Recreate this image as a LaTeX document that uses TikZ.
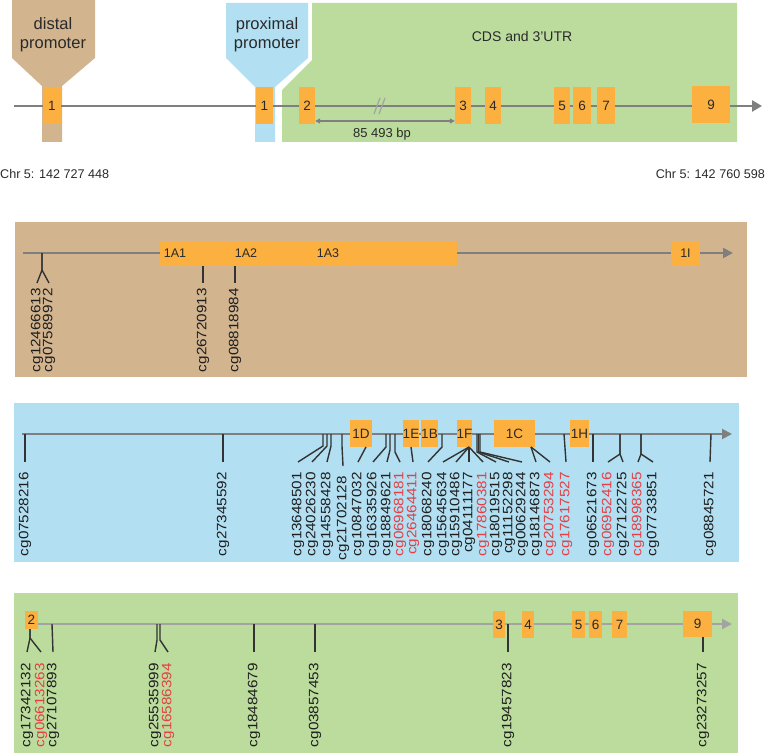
\documentclass[tikz,border=0pt]{standalone}
\usepackage{fontspec}
\setmainfont{Liberation Sans}
\usetikzlibrary{arrows.meta}
\definecolor{brownp}{HTML}{D2B48F}
\definecolor{bluep}{HTML}{B2DFF1}
\definecolor{greenp}{HTML}{BCDC9E}
\definecolor{exonor}{HTML}{FBB040}
\definecolor{geneg}{HTML}{7F7F7F}
\definecolor{genelt}{HTML}{A3A3A3}
\definecolor{txt}{HTML}{2A2A2A}
\definecolor{labr}{HTML}{E63E44}
\definecolor{labk}{HTML}{1E1E1E}
\definecolor{cpgc}{HTML}{333333}
\begin{document}
\begin{tikzpicture}[x=1pt,y=-1pt,
 exon/.style={fill=exonor, inner sep=0pt, text=txt, font=\fontsize{13.5}{13.5}\selectfont},
 gene/.style={draw=geneg, line width=2.5pt, -{Triangle[length=10pt,width=11pt]}},
 genep/.style={draw=geneg, line width=2pt, -{Triangle[length=10pt,width=10pt]}},
 cpg/.style={draw=cpgc, line width=1.4pt},
 lab/.style={rotate=90, anchor=east, inner sep=0pt, font=\fontsize{13.6}{15}\selectfont},
 ttl/.style={text=txt, align=center, font=\fontsize{16.5}{19}\selectfont, inner sep=0pt},
 small/.style={text=txt, inner sep=0pt, font=\fontsize{12.6}{14}\selectfont},
]
\useasboundingbox (0,0) rectangle (765,754);
% ---------- top overview ----------
\fill[brownp] (12,0) -- (95,0) -- (95,58) -- (62,86) -- (62,142) -- (42,142) -- (42,86) -- (12,58) -- cycle;
\fill[bluep] (226,3) -- (308,3) -- (308,58) -- (275,87) -- (275,142) -- (255,142) -- (255,87) -- (226,58) -- cycle;
\fill[greenp] (312,3) -- (737,3) -- (737,142) -- (282,142) -- (282,90) -- (312,60) -- cycle;
\node[ttl] (dist) at (53,35) {distal\\promoter};
\node[ttl] (prox) at (267,35) {proximal\\promoter};
\node[text=txt, inner sep=0pt, font=\fontsize{14}{16}\selectfont] (cds) at (522,36) {CDS and 3'UTR};
\coordinate (gs) at (14,106);
\coordinate (ge) at (762,106);
\draw[gene] (gs) -- (ge);
\draw[genelt, line width=1.2pt] (374,114) -- (380,98) (379,114) -- (385,98);
\node[exon, minimum width=18pt, minimum height=37pt] (d1) at (52,105.5) {1};
\node[exon, minimum width=17pt, minimum height=37pt] (p1) at (264.5,105.5) {1};
\node[exon, minimum width=16pt, minimum height=37pt] (e2) at (307,105.5) {2};
\node[exon, minimum width=16pt, minimum height=37pt] (e3) at (463,105.5) {3};
\node[exon, minimum width=16pt, minimum height=37pt] (e4) at (493,105.5) {4};
\node[exon, minimum width=16pt, minimum height=37pt] (e5) at (562,105.5) {5};
\node[exon, minimum width=18pt, minimum height=37pt] (e6) at (582,105.5) {6};
\node[exon, minimum width=18pt, minimum height=37pt] (e7) at (606,105.5) {7};
\node[exon, minimum width=38pt, minimum height=37pt] (e9) at (711,104.5) {9};
\draw[geneg, line width=1.5pt, {Triangle[length=5pt,width=5pt]}-{Triangle[length=5pt,width=5pt]}] (e2.east |- 0,121) -- (e3.west |- 0,121);
\node[small, font=\fontsize{13}{14}\selectfont] (bp) at (382,134) {85 493 bp};
\node[small, anchor=west] (chrl) at (0,174) {Chr 5: 142 727 448};
\node[small, anchor=east] (chrr) at (765,174) {Chr 5: 142 760 598};
% ---------- brown panel ----------
\fill[brownp] (15,222) rectangle (747,377);
\coordinate (bs) at (23,253);
\coordinate (be) at (733,253);
\draw[genep] (bs) -- (be);
\node[exon, minimum width=297pt, minimum height=25pt] (b1A) at (308.5,253.5) {};
\node[exon, minimum width=29pt, minimum height=25pt, font=\fontsize{12.5}{12.5}\selectfont] (b1I) at (685.5,253.5) {1I};
\node[small, font=\fontsize{12.5}{12.5}\selectfont] (t1A1) at (175,253) {1A1};
\node[small, font=\fontsize{12.5}{12.5}\selectfont] (t1A2) at (246,253) {1A2};
\node[small, font=\fontsize{12.5}{12.5}\selectfont] (t1A3) at (328,253) {1A3};
\foreach \lx/\nm/\col/\cx/\sy/\ky [count=\i] in {
37/cg12466613/labk/42/253/270,
49/cg07589972/labk/42/253/270,
203/cg26720913/labk/203/266/266,
235/cg08818984/labk/235/266/266}{
 \node[lab, text=\col] (br\i) at (\lx,288) {\scalebox{1.12}[1]{\nm}};
 \draw[cpg] (\cx,\sy) -- (\cx,\ky) -- ([yshift=5pt]br\i.east);
}
% ---------- blue panel ----------
\fill[bluep] (14,403) rectangle (739,562);
\coordinate (us) at (22,434);
\coordinate (ue) at (732,434);
\draw[genep] (us) -- (ue);
\node[exon, minimum width=22pt, minimum height=27pt] (u1D) at (361,433.5) {1D};
\node[exon, minimum width=14pt, minimum height=27pt] (u1E) at (411,433.5) {1E};
\node[exon, minimum width=15pt, minimum height=27pt] (u1B) at (429.5,433.5) {1B};
\node[exon, minimum width=15pt, minimum height=27pt] (u1F) at (464.5,433.5) {1F};
\node[exon, minimum width=41pt, minimum height=27pt] (u1C) at (514.5,433.5) {1C};
\node[exon, minimum width=19pt, minimum height=27pt] (u1H) at (579.5,433.5) {1H};
\foreach \lx/\nm/\col/\cx/\sy/\ky/\ty [count=\i] in {
25/cg07528216/labk/25/434/434/472,
223/cg27345592/labk/223/434/434/472,
298/cg13648501/labk/323/434/446/472,
312/cg24026230/labk/327/434/446/472,
327/cg14558428/labk/331/434/446/472,
343/cg21702128/labk/342/434/446/476,
358/cg10847032/labk/366/447/447/472,
373/cg16335926/labk/386/434/447/472,
387/cg18849621/labk/390/434/450/472,
400/cg06968181/labr/395/434/452/472,
413/cg26464411/labr/411/447/447/472,
428/cg18068240/labk/442/434/447/472,
443/cg15645634/labk/469/447/447/472,
456/cg15910486/labk/469/447/447/472,
469/cg04111177/labk/469/447/447/472,
483/cg17860381/labr/469/447/447/472,
496/cg18019515/labk/477/434/452/472,
509/cg11152298/labk/478.5/434/452/472,
522/cg00629244/labk/480/434/452/472,
536/cg18146873/labk/531/447/447/472,
550/cg20753294/labr/531/447/447/472,
566/cg17617527/labr/564/434/434/472,
593/cg06521673/labk/593/434/434/472,
608/cg06952416/labr/620/434/454/472,
623/cg27122725/labk/620/434/454/472,
638/cg18998365/labr/641/434/454/472,
653/cg07733851/labk/641/434/454/472,
710/cg08845721/labk/711/434/434/472}{
 \node[lab, text=\col] (bl\i) at (\lx,\ty) {\scalebox{1.12}[1]{\nm}};
 \draw[cpg] (\cx,\sy) -- (\cx,\ky) -- ([yshift=10pt]bl\i.east);
}
% ---------- green panel ----------
\fill[greenp] (14,593) rectangle (738,753);
\coordinate (gs2) at (25,624);
\coordinate (ge2) at (732,624);
\draw[genep, draw=genelt] (gs2) -- (ge2);
\begin{scope}[every node/.append style={font=\fontsize{12.5}{12.5}\selectfont}]
\node[exon, minimum width=13pt, minimum height=18pt] (g2) at (31.5,620) {2};
\node[exon, minimum width=12pt, minimum height=27pt] (g3) at (499,624.5) {3};
\node[exon, minimum width=12pt, minimum height=27pt] (g4) at (528,624.5) {4};
\node[exon, minimum width=13pt, minimum height=27pt] (g5) at (578.5,624.5) {5};
\node[exon, minimum width=13pt, minimum height=27pt] (g6) at (595.5,624.5) {6};
\node[exon, minimum width=15pt, minimum height=27pt] (g7) at (619.5,624.5) {7};
\node[exon, minimum width=29pt, minimum height=26pt] (g9) at (697.5,624) {9};
\end{scope}
\foreach \lx/\nm/\col/\cx/\sy/\ky [count=\i] in {
27/cg17342132/labk/30/629/638,
41/cg06613263/labr/30/629/638,
53/cg27107893/labk/52/624/624,
155/cg25535999/labk/157/624/640,
168/cg16586394/labr/160/624/640,
254/cg18484679/labk/254/624/624,
315/cg03857453/labk/315/624/624,
508/cg19457823/labk/508/624/624,
703/cg23273257/labk/703/637/637}{
 \node[lab, text=\col] (gr\i) at (\lx,663) {\scalebox{1.12}[1]{\nm}};
 \draw[cpg] (\cx,\sy) -- (\cx,\ky) -- ([yshift=11pt]gr\i.east);
}
\end{tikzpicture}
\end{document}
